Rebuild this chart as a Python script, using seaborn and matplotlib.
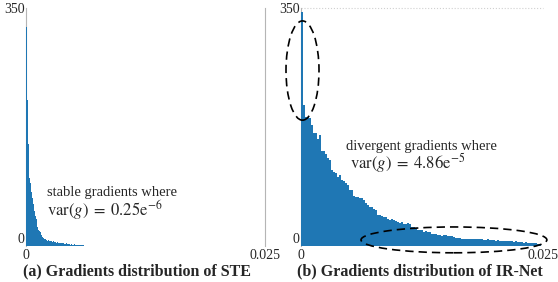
import numpy as np
import pandas as pd
import matplotlib
matplotlib.use("Agg")
import matplotlib.pyplot as plt
import seaborn as sns
from matplotlib.patches import Ellipse

# bar heights (counts per bin)
ste_counts = [322, 214, 150, 100, 92, 80, 70, 62, 52, 44,
              40, 33, 28, 24, 22, 20, 16, 13, 12, 11,
              10, 9, 8, 9, 7, 8, 7, 6, 7, 6,
              6, 5, 6, 5, 5, 4, 5, 4, 4, 4,
              3, 3, 4, 3, 3, 3, 2, 3, 2, 2,
              3, 2, 2, 2, 1, 2, 2, 1, 2, 1, 1]
irnet_counts = [344, 207, 190, 190, 188, 178, 166, 166, 158, 163,
                139, 140, 135, 130, 126, 112, 109, 107, 102, 104,
                97, 95, 92, 89, 82, 82, 74, 72, 72, 71,
                70, 67, 63, 60, 57, 57, 54, 53, 45, 46,
                44, 43, 43, 40, 38, 39, 38, 37, 36, 34,
                35, 33, 33, 34, 32, 28, 28, 27, 24, 24,
                23, 21, 22, 21, 20, 18, 18, 17, 16, 16,
                15, 16, 16, 15, 15, 14, 13, 12, 12, 12,
                11, 11, 10, 11, 11, 11, 10, 11, 10, 10,
                10, 9, 9, 10, 9, 9, 9, 8, 9, 8,
                8, 7, 8, 7, 7, 7, 6, 7, 6, 6,
                6, 5, 6, 5, 5, 4, 4, 5, 3, 3]
ste_bin = 0.0001
irnet_bin = 0.000207

x_ticks = [0, 0.025]
x_ticklabels = ["0", "0.025"]
y_ticks = [0, 350]
y_ticklabels = ["0", "350"]
titles = ["(a) Gradients distribution of STE", "(b) Gradients distribution of IR-Net"]
notes = [("stable gradients where", r"$\mathrm{var}(g)\;=\;0.25\mathrm{e}^{-6}$"),
         ("divergent gradients where", r"$\mathrm{var}(g)\;=\;4.86\mathrm{e}^{-5}$")]

sns.set_style("white")
plt.rcParams["font.family"] = ["Liberation Serif", "DejaVu Serif"]
plt.rcParams["mathtext.fontset"] = "stix"

blue = "#1f77b4"
grey = "#b5b5b5"

fig = plt.figure(figsize=(5.58, 2.82), dpi=100)
ax1 = fig.add_axes([26 / 558, 36 / 282, 239 / 558, 238 / 282])
ax2 = fig.add_axes([301 / 558, 36 / 282, 242 / 558, 238 / 282])


def draw_hist(ax, counts, width):
    n = len(counts)
    centers = (np.arange(n) + 0.5) * width
    df = pd.DataFrame({"g": centers, "n": counts})
    sns.histplot(data=df, x="g", weights="n", binwidth=width,
                 binrange=(0, n * width), ax=ax,
                 color=blue, alpha=1, linewidth=0)
    # bars sit on top of the grey spine, like the original
    for p in ax.patches:
        p.set_zorder(3)


draw_hist(ax1, ste_counts, ste_bin)
draw_hist(ax2, irnet_counts, irnet_bin)

for ax, title in zip([ax1, ax2], titles):
    ax.set_xlim(0, 0.025)
    ax.set_ylim(0, 350)
    ax.set_xticks(x_ticks)
    ax.set_xticklabels(x_ticklabels)
    ax.set_yticks(y_ticks)
    ax.set_yticklabels(y_ticklabels)
    ax.get_yticklabels()[0].set_va("bottom")
    ax.tick_params(length=0, labelsize=10, pad=1)
    ax.tick_params(axis="x", pad=2)
    ax.set_ylabel("")
    ax.set_xlabel(title, fontsize=11.5, fontweight="bold", labelpad=1)
    for s in ["top", "bottom", "right"]:
        ax.spines[s].set_visible(False)
    ax.spines["left"].set_color(grey)
    ax.spines["left"].set_linewidth(0.8)

ax1.xaxis.label.set_x(0.465)
ax2.xaxis.label.set_x(0.49)

ax1.spines["right"].set_visible(True)
ax1.spines["right"].set_color(grey)
ax1.spines["right"].set_linewidth(0.8)
ax2.axhline(350, color="#d0d0d0", lw=0.8, ls=":", clip_on=False)

ax1.text(0.0022, 73, notes[0][0], fontsize=10.5)
ax1.text(0.0022, 44, notes[0][1], fontsize=12)
ax2.text(0.0047, 141, notes[1][0], fontsize=10.5)
ax2.text(0.0051, 113, notes[1][1], fontsize=12)

ax2.add_patch(Ellipse((0.000155, 258), 0.00341, 146, fill=False, ec="black",
                      lw=1.2, ls=(0, (5, 3)), clip_on=False, zorder=4))
ax2.add_patch(Ellipse((0.0158, 9), 0.0192, 38, fill=False, ec="black",
                      lw=1.2, ls=(0, (5, 3)), clip_on=False, zorder=4))

fig.savefig("out.png", dpi=100)
